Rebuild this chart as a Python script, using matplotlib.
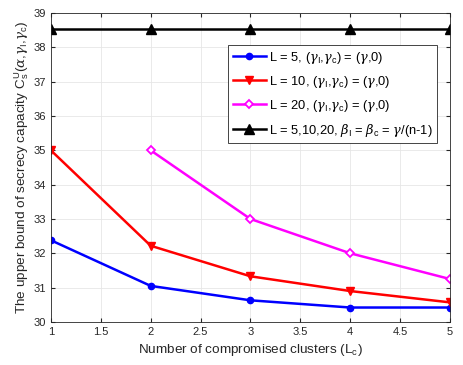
import matplotlib
matplotlib.use('Agg')
import matplotlib.pyplot as plt

plt.rcParams['font.family'] = ['Liberation Sans', 'DejaVu Sans']
plt.rcParams['mathtext.fontset'] = 'custom'
plt.rcParams['mathtext.rm'] = 'Liberation Sans'
plt.rcParams['mathtext.it'] = 'DejaVu Serif:italic'

# data
lc = [1, 2, 3, 4, 5]
lc_20 = [2, 3, 4, 5]
cap_L5 = [32.38, 31.05, 30.63, 30.42, 30.42]
cap_L10 = [35.0, 32.22, 31.33, 30.9, 30.57]
cap_L20 = [35.0, 33.0, 32.0, 31.25]
cap_beta = [38.55, 38.55, 38.55, 38.55, 38.55]

labels = [
    r'L = 5, ($\gamma_\mathregular{I}$,$\gamma_\mathregular{c}$) = ($\gamma$,0)',
    r'L = 10, ($\gamma_\mathregular{I}$,$\gamma_\mathregular{c}$) = ($\gamma$,0)',
    r'L = 20, ($\gamma_\mathregular{I}$,$\gamma_\mathregular{c}$) = ($\gamma$,0)',
    r'L = 5,10,20, $\beta_\mathregular{I}$ = $\beta_\mathregular{c}$ = $\gamma$/(n-1)',
]

fig = plt.figure(figsize=(4.63, 3.65), dpi=100)
ax = fig.add_axes([0.110, 0.118, 0.862, 0.846])

ax.plot(lc, cap_L5, color='#0000ff', marker='o', ms=4.5, lw=1.8, label=labels[0])
ax.plot(lc, cap_L10, color='#ff0000', marker='v', ms=6, lw=1.8, label=labels[1])
ax.plot(lc_20, cap_L20, color='#ff00ff', marker='D', ms=4.5, lw=1.8, mfc='white', mew=1.3, label=labels[2])
ax.plot(lc, cap_beta, color='black', marker='^', ms=6.5, lw=1.8, label=labels[3])

ax.set_xlim(1, 5)
ax.set_ylim(30, 39)
ax.set_xticks([1, 1.5, 2, 2.5, 3, 3.5, 4, 4.5, 5])
ax.set_xticklabels(['1', '1.5', '2', '2.5', '3', '3.5', '4', '4.5', '5'])
ax.set_yticks(range(30, 40))
ax.tick_params(direction='in', labelsize=8, top=True, right=True, colors='#262626', length=3)
ax.grid(True, color='#e6e6e6', lw=0.6)
for s in ax.spines.values():
    s.set_color('#262626')
    s.set_linewidth(0.6)

ax.set_xlabel(r'Number of compromised clusters (L$_\mathregular{c}$)', fontsize=9.7, color='#262626')
ax.set_ylabel(r'The upper bound of secrecy capacity C$_\mathregular{s}^\mathregular{U}$($\alpha$,$\gamma_\mathregular{I}$,$\gamma_\mathregular{c}$)',
              fontsize=9.7, color='#262626', labelpad=2)

leg = ax.legend(loc='upper right', bbox_to_anchor=(0.967, 0.896), fontsize=9.3, fancybox=False,
                edgecolor='#262626', framealpha=1, handlelength=2.6, handletextpad=0.2,
                borderpad=0.35, labelspacing=0.62, borderaxespad=0)
leg.get_frame().set_linewidth(0.6)

fig.savefig('out.png', dpi=100)
